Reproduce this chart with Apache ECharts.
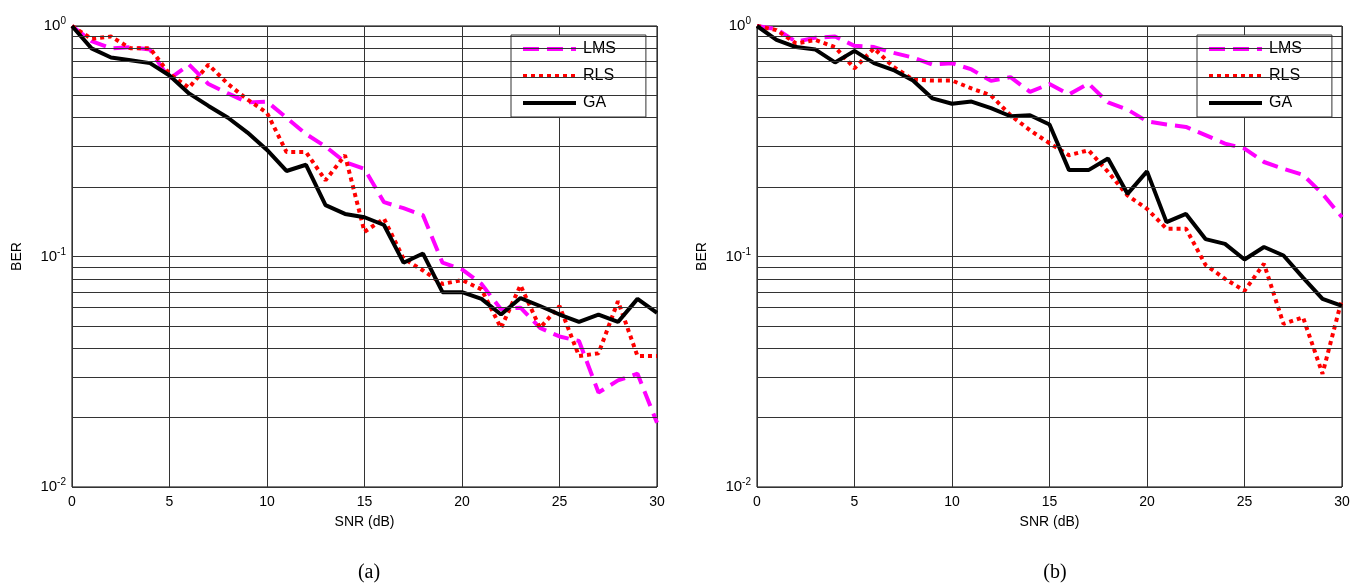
<!DOCTYPE html>
<html>
<head>
	<meta charset="UTF-8">
	<title>BER vs SNR</title>
	<script src="https://cdn.jsdelivr.net/npm/echarts@6/dist/echarts.min.js"></script>
	<style>
		html, body { margin: 0; padding: 0; background: #fff; }
		#main { width: 1370px; height: 587px; }
	</style>
</head>
<body>
<div id="main"></div>
<script>
	// SNR points (dB)
	var snr = [0,1,2,3,4,5,6,7,8,9,10,11,12,13,14,15,16,17,18,19,20,21,22,23,24,25,26,27,28,29,30];

	// (a)
	var lmsA = [1.0,0.86,0.80,0.81,0.79,0.59,0.68,0.56,0.51,0.466,0.47,0.40,0.34,0.30,0.257,0.24,0.172,0.162,0.151,0.094,0.088,0.076,0.059,0.060,0.049,0.045,0.043,0.0257,0.029,0.031,0.019];
	var rlsA = [1.0,0.88,0.90,0.80,0.80,0.62,0.54,0.68,0.56,0.48,0.42,0.284,0.284,0.214,0.275,0.128,0.146,0.098,0.087,0.076,0.079,0.072,0.049,0.075,0.049,0.061,0.037,0.038,0.064,0.037,0.037];
	var gaA  = [1.0,0.80,0.73,0.71,0.69,0.61,0.51,0.45,0.40,0.345,0.29,0.235,0.25,0.167,0.153,0.148,0.137,0.094,0.103,0.070,0.070,0.0655,0.056,0.066,0.061,0.056,0.052,0.056,0.052,0.0655,0.057];

	// (b)
	var lmsB = [1.0,0.97,0.855,0.89,0.90,0.82,0.81,0.765,0.73,0.68,0.69,0.648,0.578,0.60,0.518,0.56,0.505,0.563,0.466,0.434,0.386,0.374,0.365,0.336,0.309,0.294,0.257,0.24,0.226,0.187,0.148];
	var rlsB = [1.0,0.96,0.84,0.87,0.81,0.655,0.80,0.665,0.586,0.58,0.58,0.536,0.50,0.41,0.353,0.31,0.275,0.289,0.233,0.184,0.161,0.132,0.132,0.092,0.080,0.071,0.093,0.051,0.0545,0.031,0.0655];
	var gaB  = [1.0,0.87,0.81,0.79,0.695,0.78,0.69,0.644,0.58,0.485,0.46,0.47,0.44,0.406,0.41,0.374,0.237,0.237,0.266,0.187,0.234,0.141,0.153,0.119,0.1135,0.097,0.11,0.101,0.081,0.0655,0.061];

	// log grid lines between the decades
	var minorTicks = [0.02,0.03,0.04,0.05,0.06,0.07,0.08,0.09,0.2,0.3,0.4,0.5,0.6,0.7,0.8,0.9];

	function pairs(ys) {
		var out = [];
		for (var i = 0; i < snr.length; i++) out.push([snr[i], ys[i]]);
		return out;
	}

	var font = 'Liberation Sans';
	var gridColor = '#333';

	var lmsStyle = { color: '#FF00FF', width: 4, type: [16, 8] };
	var rlsStyle = { color: '#FF0000', width: 4, type: [4, 4] };
	var gaStyle  = { color: '#000000', width: 4, type: 'solid' };

	function xAxisOf(idx) {
		return {
			type: 'value', gridIndex: idx, min: 0, max: 30, interval: 5,
			name: 'SNR (dB)', nameLocation: 'middle', nameGap: 28,
			nameTextStyle: { fontFamily: font, fontSize: 14, color: '#000' },
			axisLine: { show: false },
			axisTick: { show: false },
			axisLabel: { fontFamily: font, fontSize: 14, color: '#000', margin: 8 },
			splitLine: { show: true, lineStyle: { color: gridColor, width: 1 } }
		};
	}

	function yAxisOf(idx) {
		return {
			type: 'log', logBase: 10, gridIndex: idx, min: 0.01, max: 1,
			name: 'BER', nameLocation: 'middle', nameGap: 48, nameRotate: 90,
			nameTextStyle: { fontFamily: font, fontSize: 14, color: '#000' },
			axisLine: { show: false },
			axisTick: { show: false },
			axisLabel: {
				margin: 6,
				formatter: function (v) {
					return '{b|10}{s|' + Math.round(Math.log10(v)) + '}';
				},
				rich: {
					b: { fontFamily: font, fontSize: 15, color: '#000' },
					s: { fontFamily: font, fontSize: 10, color: '#000', padding: [0, 0, 9, 0] }
				}
			},
			splitLine: { show: true, lineStyle: { color: gridColor, width: 1 } }
		};
	}

	function lineSeries(name, data, idx, style) {
		return {
			name: name, type: 'line', xAxisIndex: idx, yAxisIndex: idx,
			data: pairs(data), symbol: 'none', silent: true,
			itemStyle: { color: style.color },
			lineStyle: style
		};
	}

	function minorLines(idx) {
		return {
			type: 'line', xAxisIndex: idx, yAxisIndex: idx, data: [], silent: true,
			markLine: {
				symbol: 'none', silent: true, animation: false,
				label: { show: false },
				lineStyle: { color: gridColor, width: 1, type: 'solid' },
				data: minorTicks.map(function (t) { return { yAxis: t }; })
			}
		};
	}

	function legendOf(left) {
		return {
			orient: 'vertical', left: left, top: 35,
			data: [
				{ name: 'LMS', lineStyle: lmsStyle, itemStyle: { opacity: 0 } },
				{ name: 'RLS', lineStyle: rlsStyle, itemStyle: { opacity: 0 } },
				{ name: 'GA', lineStyle: gaStyle, itemStyle: { opacity: 0 } }
			],
			backgroundColor: '#fff',
			borderColor: '#333', borderWidth: 1,
			padding: [6, 30, 6, 10],
			itemWidth: 53, itemHeight: 14, itemGap: 11,
			textStyle: { fontFamily: font, fontSize: 16, color: '#000', padding: [0, 0, 0, 2] }
		};
	}

	var chart = echarts.init(document.getElementById('main'));
	var option = {
		animation: false,
		backgroundColor: '#fff',
		title: [
			{ text: '(a)', left: 364, top: 558, textAlign: 'center',
				textStyle: { fontFamily: 'Liberation Serif', fontSize: 20, fontWeight: 'normal', color: '#000' } },
			{ text: '(b)', left: 1050, top: 558, textAlign: 'center',
				textStyle: { fontFamily: 'Liberation Serif', fontSize: 20, fontWeight: 'normal', color: '#000' } }
		],
		legend: [legendOf(511), legendOf(1197)],
		grid: [
			{ left: 72, top: 26, width: 585, height: 461, show: true, borderColor: '#000', borderWidth: 1, backgroundColor: 'transparent' },
			{ left: 757, top: 26, width: 585, height: 461, show: true, borderColor: '#000', borderWidth: 1, backgroundColor: 'transparent' }
		],
		xAxis: [xAxisOf(0), xAxisOf(1)],
		yAxis: [yAxisOf(0), yAxisOf(1)],
		series: [
			minorLines(0),
			minorLines(1),
			lineSeries('LMS', lmsA, 0, lmsStyle),
			lineSeries('RLS', rlsA, 0, rlsStyle),
			lineSeries('GA', gaA, 0, gaStyle),
			lineSeries('LMS', lmsB, 1, lmsStyle),
			lineSeries('RLS', rlsB, 1, rlsStyle),
			lineSeries('GA', gaB, 1, gaStyle)
		]
	};
	chart.setOption(option);
</script>
</body>
</html>
